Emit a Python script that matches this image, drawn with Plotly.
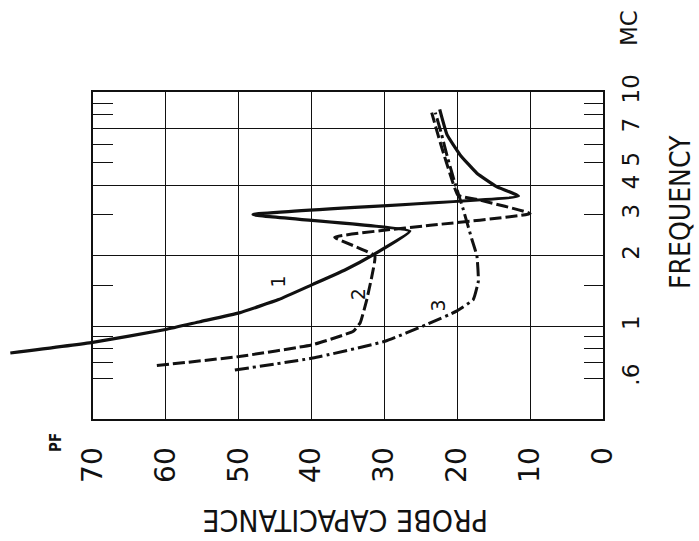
import numpy as np
import plotly.graph_objects as go

# ---------------- data (capacitance pF, frequency MC) ----------------
curve1_cap = [81.3, 70.0, 60.0, 55.3, 49.9, 44.5, 39.8, 35.4, 31.3, 26.5, 48.0, 11.6, 14.6, 17.3, 19.6, 21.4, 22.4]
curve1_freq = [0.768, 0.853, 0.968, 1.045, 1.14, 1.30, 1.51, 1.74, 2.04, 2.547, 3.0, 3.60, 3.95, 4.51, 5.40, 6.59, 8.45]

curve2_cap = [61.2, 49.9, 39.8, 34.25, 33.3, 32.4, 31.7, 31.3, 36.8, 30.6, 23.7, 10.0, 16.9, 19.9, 21.0, 22.1, 22.9, 23.5]
curve2_freq = [0.679, 0.742, 0.834, 0.952, 1.035, 1.30, 1.64, 2.0, 2.40, 2.56, 2.70, 3.03, 3.46, 3.63, 4.50, 5.78, 7.03, 8.19]

curve3_cap = [50.5, 39.8, 29.9, 24.2, 20.1, 17.8, 17.1, 17.3, 18.0, 19.2, 20.3, 21.3, 22.2, 23.0]
curve3_freq = [0.65, 0.731, 0.862, 1.017, 1.16, 1.30, 1.56, 2.0, 2.36, 3.18, 4.08, 5.23, 6.71, 8.19]

curve_labels = ["1", "2", "3"]
curve_label_cap = [44.6, 33.6, 22.6]
curve_label_freq = [1.55, 1.37, 1.23]

cap_ticks = [0, 10, 20, 30, 40, 50, 60, 70]
cap_ticktext = ["0", "10", "20", "30", "40", "50", "60", "70"]
freq_grid = [1, 2, 4, 7]
freq_label_vals = [0.6, 1, 2, 3, 4, 5, 7, 10]
freq_label_text = [".6", "1", "2", "3", "4", "5", "7", "10"]
freq_minor_left = [0.6, 0.7, 0.8, 0.9, 1.5, 3, 5, 6, 8, 9]
freq_minor_right = [0.7, 0.8, 0.9, 1.5, 6, 8, 9]

# ---------------- layout geometry ----------------
W, H = 699, 541
X_LEFT_PX, X_RIGHT_PX = 92.7, 603.0
Y_TOP_PX, Y_BOT_PX = 92.3, 419.3
CAP_RANGE = [70, 0]
EXT_RANGE = [82, -1]
FREQ_RANGE = [np.log10(0.4), np.log10(10.0)]

scale = (X_RIGHT_PX - X_LEFT_PX) / (CAP_RANGE[0] - CAP_RANGE[1])
x2_left_px = X_LEFT_PX - (EXT_RANGE[0] - CAP_RANGE[0]) * scale
x2_right_px = X_RIGHT_PX + (CAP_RANGE[1] - EXT_RANGE[1]) * scale


def fx(px):
    return px / W


def fy(py):
    return 1 - py / H


xdom = [fx(X_LEFT_PX), fx(X_RIGHT_PX)]
x2dom = [fx(x2_left_px), fx(x2_right_px)]
ydom = [fy(Y_BOT_PX), fy(Y_TOP_PX)]

INK = "#111111"
NUM_FONT = "DejaVu Sans"
TITLE_FONT = "Liberation Sans Narrow, DejaVu Sans Condensed, Liberation Sans, sans-serif"

fig = go.Figure()

# empty traces so that the frame subplot (x, y) and its overlay (y3) are drawn
fig.add_trace(go.Scatter(x=[None], y=[None], xaxis="x", yaxis="y", mode="lines",
                         showlegend=False, hoverinfo="skip"))
fig.add_trace(go.Scatter(x=[None], y=[None], xaxis="x", yaxis="y3", mode="lines",
                         showlegend=False, hoverinfo="skip"))

fig.add_trace(go.Scatter(x=curve1_cap, y=curve1_freq, mode="lines", xaxis="x2", yaxis="y2",
                         line=dict(color=INK, width=3.2, shape="spline", smoothing=0.35),
                         showlegend=False, hoverinfo="skip"))
fig.add_trace(go.Scatter(x=curve2_cap, y=curve2_freq, mode="lines", xaxis="x2", yaxis="y2",
                         line=dict(color=INK, width=3, dash="12px,4px", shape="spline", smoothing=0.35),
                         showlegend=False, hoverinfo="skip"))
fig.add_trace(go.Scatter(x=curve3_cap, y=curve3_freq, mode="lines", xaxis="x2", yaxis="y2",
                         line=dict(color=INK, width=3, dash="14px,4px,3px,4px", shape="spline", smoothing=0.35),
                         showlegend=False, hoverinfo="skip"))

annotations = []
for t, c, f in zip(curve_labels, curve_label_cap, curve_label_freq):
    annotations.append(dict(x=c, y=np.log10(f), xref="x2", yref="y2", text=t, showarrow=False,
                            xanchor="center", yanchor="middle", textangle=-90,
                            font=dict(family=NUM_FONT, size=19, color=INK)))


def paper_text(px, py, text, angle, family, size):
    return dict(x=fx(px), y=fy(py), xref="paper", yref="paper", text=text, showarrow=False,
                xanchor="center", yanchor="middle", textangle=angle,
                font=dict(family=family, size=size, color=INK))


annotations += [
    paper_text(56, 443, "<b>PF</b>", -90, TITLE_FONT, 15),
    paper_text(629, 28, "MC", -90, NUM_FONT, 23),
    paper_text(680, 212, "FREQUENCY", -90, TITLE_FONT, 28),
    paper_text(345, 521, "PROBE CAPACITANCE", 180, TITLE_FONT, 30),
]

fig.update_layout(
    width=W, height=H,
    margin=dict(l=0, r=0, t=0, b=0),
    paper_bgcolor="white",
    plot_bgcolor="rgba(0,0,0,0)",
    template="none",
    showlegend=False,
    annotations=annotations,
    xaxis=dict(domain=xdom, range=CAP_RANGE, anchor="y", tickmode="array",
               tickvals=cap_ticks, ticktext=cap_ticktext, ticks="", showgrid=True,
               gridcolor=INK, gridwidth=1.4, zeroline=False, showline=True, mirror=True,
               linecolor=INK, linewidth=1.6, tickangle=-90, ticklabelstandoff=15,
               tickfont=dict(family=NUM_FONT, size=28, color=INK), automargin=False),
    yaxis=dict(domain=ydom, type="log", range=FREQ_RANGE, anchor="x", side="left",
               tickmode="array", tickvals=freq_grid, showticklabels=False, ticks="",
               showgrid=True, gridcolor=INK, gridwidth=1.4, zeroline=False,
               showline=True, mirror=True, linecolor=INK, linewidth=1.6,
               minor=dict(tickmode="array", tickvals=freq_minor_left, ticks="inside",
                          ticklen=20, tickwidth=1.3, tickcolor=INK, showgrid=False),
               automargin=False),
    yaxis3=dict(domain=ydom, type="log", range=FREQ_RANGE, anchor="x", overlaying="y",
                side="right", tickmode="array", tickvals=freq_label_vals,
                ticktext=freq_label_text, ticks="inside", ticklen=19, tickwidth=1.3,
                tickcolor=INK, showgrid=False, zeroline=False, showline=False,
                tickangle=-90, ticklabelstandoff=12,
                tickfont=dict(family=NUM_FONT, size=23, color=INK),
                minor=dict(tickmode="array", tickvals=freq_minor_right, ticks="inside",
                           ticklen=19, tickwidth=1.3, tickcolor=INK, showgrid=False),
                automargin=False),
    xaxis2=dict(domain=x2dom, range=EXT_RANGE, anchor="y2", visible=False, automargin=False),
    yaxis2=dict(domain=ydom, type="log", range=FREQ_RANGE, anchor="x2", visible=False, automargin=False),
)

fig.write_html("out.html")
